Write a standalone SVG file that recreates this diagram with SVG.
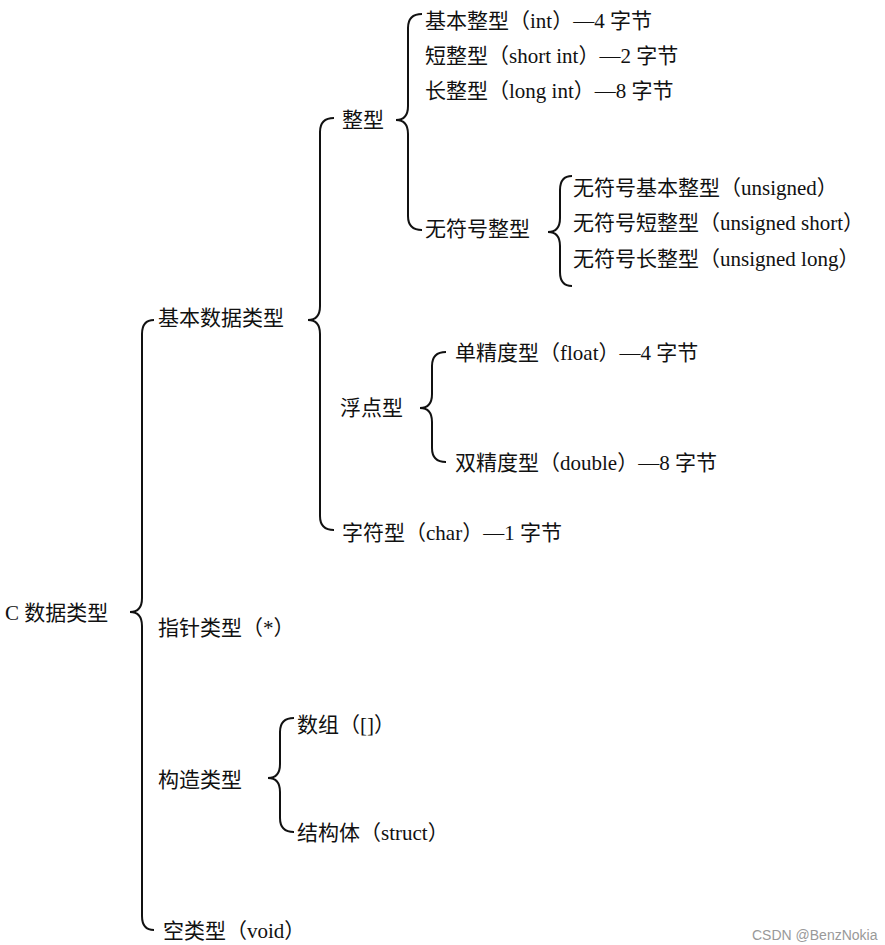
<svg xmlns="http://www.w3.org/2000/svg" width="885" height="945" viewBox="0 0 885 945">
<style>
text{font-family:"Liberation Serif","Noto Sans CJK SC",serif;font-size:21px;fill:#111}
.b{fill:none;stroke:#111;stroke-width:2}
.w{font-family:"Liberation Sans","Noto Sans CJK SC",sans-serif;font-size:14px;fill:#999}
</style>
<rect width="885" height="945" fill="#fff"/>
<g id="connectors">
<path class="b" d="M154,320 Q142,320 142,334 L142,598 Q142,612 130,612 Q142,612 142,626 L142,916 Q142,930 154,930"/>
<path class="b" d="M334,118 Q320,118 320,132 L320,306 Q320,320 308,320 Q320,320 320,334 L320,516 Q320,530 334,530"/>
<path class="b" d="M422,14 Q408,14 408,28 L408,106 Q408,120 396,120 Q408,120 408,134 L408,216 Q408,230 422,230"/>
<path class="b" d="M572,176 Q560,176 560,190 L560,218 Q560,232 548,232 Q560,232 560,246 L560,272 Q560,286 572,286"/>
<path class="b" d="M446,352 Q432,352 432,366 L432,394 Q432,408 420,408 Q432,408 432,422 L432,448 Q432,462 446,462"/>
<path class="b" d="M294,718 Q280,718 280,732 L280,764 Q280,778 268,778 Q280,778 280,792 L280,818 Q280,832 294,832"/>
</g>
<g id="n-root"><text x="5" y="620">C 数据类型</text></g>
<g id="n-basic"><text x="158" y="325">基本数据类型</text></g>
<g id="n-int"><text x="342" y="127">整型</text></g>
<g id="n-int1"><text x="425" y="28">基本整型（int）—4 字节</text></g>
<g id="n-int2"><text x="425" y="63">短整型（short int）—2 字节</text></g>
<g id="n-int3"><text x="425" y="98">长整型（long int）—8 字节</text></g>
<g id="n-uint"><text x="425" y="236">无符号整型</text></g>
<g id="n-u1"><text x="573" y="195">无符号基本整型（unsigned）</text></g>
<g id="n-u2"><text x="573" y="230">无符号短整型（unsigned short）</text></g>
<g id="n-u3"><text x="573" y="266">无符号长整型（unsigned long）</text></g>
<g id="n-float"><text x="340" y="415">浮点型</text></g>
<g id="n-f1"><text x="455" y="360">单精度型（float）—4 字节</text></g>
<g id="n-f2"><text x="455" y="470">双精度型（double）—8 字节</text></g>
<g id="n-char"><text x="342" y="540">字符型（char）—1 字节</text></g>
<g id="n-ptr"><text x="158" y="635">指针类型（*）</text></g>
<g id="n-struct-t"><text x="158" y="787">构造类型</text></g>
<g id="n-arr"><text x="297" y="732">数组（[]）</text></g>
<g id="n-struct"><text x="297" y="840">结构体（struct）</text></g>
<g id="n-void"><text x="163" y="938">空类型（void）</text></g>
<text class="w" x="752" y="940">CSDN @BenzNokia</text>
</svg>
